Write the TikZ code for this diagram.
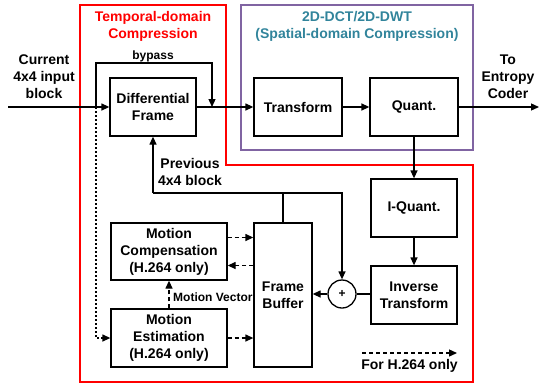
\documentclass[tikz,border=0pt]{standalone}
\usepackage{fontspec}
\setmainfont{Liberation Sans}
\usetikzlibrary{arrows.meta,positioning,calc}
\definecolor{tdred}{HTML}{FF0000}
\definecolor{sdpurple}{HTML}{8064A2}
\definecolor{sdteal}{HTML}{31849B}
\tikzset{
  blk/.style={draw, line width=1.3pt, align=center, inner sep=0pt, font=\fontsize{14}{17}\selectfont\bfseries},
  lbl/.style={align=center, inner sep=0pt, font=\fontsize{14}{17}\selectfont\bfseries},
  smlbl/.style={lbl, font=\fontsize{12}{14}\selectfont\bfseries},
  arr/.style={-{Triangle[length=8pt,width=7pt]}, line width=1.3pt},
  darr/.style={arr, dash pattern=on 4pt off 3pt},
  wire/.style={line width=1.3pt},
}

\begin{document}
\begin{tikzpicture}[x=1pt, y=-1pt]
        \useasboundingbox (0,0) rectangle (540,386);
        \draw[tdred, line width=2.4pt] (80,5) -- (226,5) -- (226,165) -- (473,165) -- (473,382) -- (80,382) -- cycle;
        \draw[sdpurple, line width=2.2pt] (241,5) rectangle (473,150);
        \node[lbl, text=tdred] (tdtitle) at (153,26) {Temporal-domain\\Compression};
        \node[lbl, text=sdteal] (sdtitle) at (357,26) {2D-DCT/2D-DWT\\(Spatial-domain Compression)};
        \node[blk, minimum width=86pt, minimum height=58pt] (df) at (153,107) {Differential\\Frame};
        \node[blk, minimum width=88pt, minimum height=58pt] (tf) at (298,107) {Transform};
        \node[blk, minimum width=88pt, minimum height=58pt] (qt) at (414,107) {Quant.};
        \node[blk, minimum width=86pt, minimum height=58pt] (iq) at (414,208) {I-Quant.};
        \node[blk, minimum width=86pt, minimum height=58pt] (it) at (414,295) {Inverse\\Transform};
        \node[blk, circle, minimum size=28pt] (sum) at (342,294) {\fontsize{12}{14}\selectfont +};
        \node[blk, minimum width=58pt, minimum height=144pt] (fb) at (283,295) {Frame\\Buffer};
        \node[blk, minimum width=116pt, minimum height=57pt] (mc) at (169,251.5) {Motion\\Compensation\\(H.264 only)};
        \node[blk, minimum width=116pt, minimum height=58pt] (me) at (169,338) {Motion\\Estimation\\(H.264 only)};
        \node[lbl] (cur) at (44,77) {Current\\4x4 input\\block};
        \node[lbl] (ent) at (508,77) {To\\Entropy\\Coder};
        \node[smlbl] (byplbl) at (153,56) {bypass};
        \node[lbl] (prevlbl) at (190,172) {Previous\\4x4 block};
        \node[smlbl, anchor=west] (mvlbl) at (173,297) {Motion Vector};
        \coordinate (in) at (8,107);
        \coordinate (out) at (539,107);
        \coordinate (byp) at (96,107);
        \coordinate (bypin) at (212,107);
        \coordinate (prev) at (153,193);
        \coordinate (lgs) at (362,353);
        \coordinate (lge) at (457,353);
        \draw[arr] (in) -- (df.west);
        \draw[arr] (byp) -- ++(0,-44) -| (bypin);
        \draw[arr] (df.east) -- (tf.west);
        \draw[arr] (tf.east) -- (qt.west);
        \draw[arr] (qt.east) -- (out);
        \draw[arr] (qt.south) -- (iq.north);
        \draw[arr] (iq.south) -- (it.north);
        \draw[wire] (it.west |- sum) -- (sum.east);
        \draw[arr] (sum.west) -- (sum.west -| fb.east);
        \draw[wire] (fb.north) -- (fb.north |- prev);
        \draw[arr] (prev) -| (sum.north);
        \draw[arr] (prev) -- (df.south);
        \draw[darr] ([yshift=14pt]mc.east) -- ([yshift=14pt]mc.east -| fb.west);
        \draw[darr] ([yshift=-14pt]mc.east -| fb.west) -- ([yshift=-14pt]mc.east);
        \draw[darr] (me.east) -- (me.east -| fb.west);
        \draw[darr] (me.north) -- (mc.south);
        \draw[arr, dash pattern=on 2pt off 2pt] (byp) |- (me.west);
        \draw[darr] (lgs) -- (lge);
        \node[lbl, below=6pt of $(lgs)!0.5!(lge)$] (lgtxt) {For H.264 only};
      \end{tikzpicture}
\end{document}
